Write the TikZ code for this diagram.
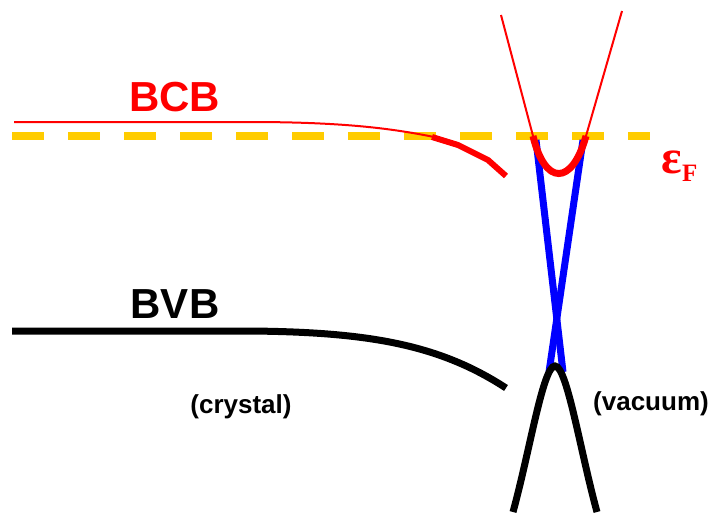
\documentclass[tikz,border=0pt]{standalone}
\usepackage{fontspec}
\setmainfont{Liberation Sans}
\newfontfamily\serifb{Liberation Serif}
\definecolor{fermiyellow}{RGB}{255,204,0}
\begin{document}
\begin{tikzpicture}[x=1pt,y=-1pt,
  lbl/.style={font=\bfseries\fontsize{42}{48}\selectfont, inner sep=0pt, anchor=base},
  sm/.style={font=\bfseries\fontsize{26}{30}\selectfont, inner sep=0pt, anchor=base},
  fermi/.style={draw=fermiyellow, line width=8pt, dash pattern=on 32pt off 24pt},
  thinred/.style={draw=red, line width=2pt},
  thickred/.style={draw=red, line width=7pt},
  bluebranch/.style={draw=blue, line width=7pt},
  blackband/.style={draw=black, line width=7pt}]
\path[use as bounding box] (0,0) rectangle (712,515);
% Fermi level
\draw[fermi] (12,136) -- (650,136);
% blue crossing bands
\draw[bluebranch] (536,140) -- (563,372);
\draw[bluebranch] (583,140) -- (549,372);
% red conduction band in vacuum
\draw[thinred] (533,136) -- (501,15);
\draw[thinred] (586,136) -- (622,11);
\draw[thickred] (533,136) .. controls (545,186) and (572,186) .. (586,136);
% BCB
\draw[thinred] (14,122) -- (250,122) .. controls (340,122) and (390,128) .. (434,137);
\draw[draw=red, line width=6pt, line join=miter] (432,137) -- (458,145) -- (488,160) -- (506,176);
% BVB
\draw[blackband] (12,331) -- (250,331) .. controls (370,332) and (440,345) .. (506,388);
% valence band in vacuum
\draw[blackband] (513,512) .. controls (530,450) and (543,366) .. (555,366) .. controls (567,366) and (580,450) .. (597,512);
% labels
\node[lbl, red] (bcb) at (174.5,111) {BCB};
\node[lbl] (bvb) at (175,318) {BVB};
\node[sm] (cry) at (241,413) {(crystal)};
\node[sm] (vac) at (651,410) {(vacuum)};
\node[red, font=\serifb\bfseries\fontsize{48}{54}\selectfont, inner sep=0pt, anchor=base west] (eps) at (661,173) {ε};
\node[red, font=\serifb\bfseries\fontsize{25}{30}\selectfont, inner sep=0pt, anchor=base west] (epsF) at ([yshift=-8pt]eps.base east) {F};
\end{tikzpicture}
\end{document}
